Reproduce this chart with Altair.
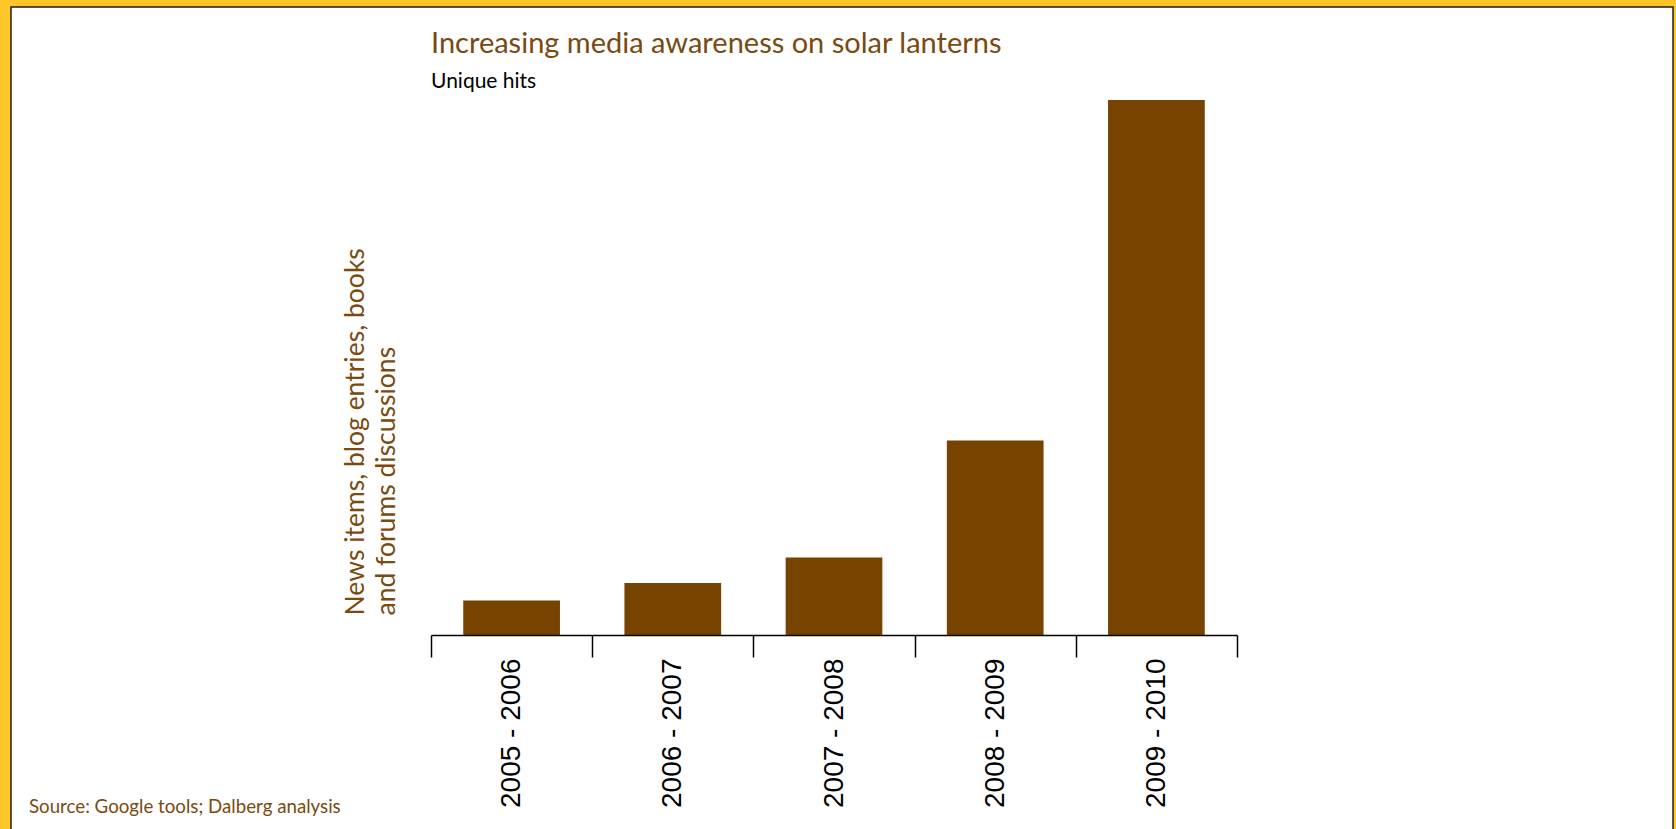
import altair as alt
import pandas as pd

# ---- data ----
periods = ["2005 - 2006", "2006 - 2007", "2007 - 2008", "2008 - 2009", "2009 - 2010"]
hits = [345, 520, 775, 1945, 5350]

title_text = "Increasing media awareness on solar lanterns"
subtitle_text = "Unique hits"
y_title = ["News items, blog entries, books", "and forums discussions"]
source_text = ["Source: Google tools; Dalberg analysis"]

# ---- styling ----
BAR = "#774300"
TEXT_BROWN = "#7A4A10"
YELLOW = "#FFC629"
PAGE_W, PAGE_H = 1676, 829
PLOT_LEFT, PLOT_TOP, PLOT_W, PLOT_H = 431, 100, 806, 535

df = pd.DataFrame({"period": periods, "hits": hits})

frame = alt.Chart(pd.DataFrame({"f": [0]})).mark_rect(
    fill="white", stroke="#1e1e1e", strokeWidth=1.5
).encode(
    x=alt.value(11 - PLOT_LEFT),
    x2=alt.value(1673 - PLOT_LEFT),
    y=alt.value(7 - PLOT_TOP),
    y2=alt.value(PAGE_H - PLOT_TOP + 10),
)

bars = alt.Chart(df).mark_bar(color=BAR, width=alt.RelativeBandSize(0.6)).encode(
    x=alt.X(
        "period:N",
        sort=periods,
        scale=alt.Scale(paddingInner=0, paddingOuter=0),
        axis=alt.Axis(
            title=None,
            labelAngle=270,
            labelFont="Liberation Sans",
            labelFontSize=28,
            labelFontWeight="normal",
            labelColor="black",
            labelPadding=1,
            labelOverlap=False,
            tickSize=22,
            tickWidth=1.5,
            tickColor="black",
            domainColor="black",
            domainWidth=1.5,
            tickBand="extent",
            zindex=1,
        ),
    ),
    y=alt.Y(
        "hits:Q",
        scale=alt.Scale(domain=[0, max(hits)], nice=False),
        axis=alt.Axis(
            title=y_title,
            domain=False,
            ticks=False,
            labels=False,
            grid=False,
            titleFont="Lato",
            titleFontSize=26.5,
            titleFontWeight="normal",
            titleColor=TEXT_BROWN,
            titleAngle=270,
            titleAlign="left",
            titleBaseline="bottom",
            titleX=-62,
            titleY=515,
            titleLineHeight=31,
            zindex=1,
        ),
    ),
)

source = alt.Chart(pd.DataFrame({"src": source_text})).mark_text(
    align="left", baseline="alphabetic", font="Lato", fontSize=18.7, color=TEXT_BROWN
).encode(
    text="src:N",
    x=alt.value(29 - PLOT_LEFT),
    y=alt.value(813 - PLOT_TOP),
)

chart = alt.layer(frame, bars, source).properties(
    width=PLOT_W,
    height=PLOT_H,
    title=alt.TitleParams(
        text=title_text,
        subtitle=subtitle_text,
        anchor="start",
        frame="group",
        font="Lato",
        fontSize=29,
        fontWeight="normal",
        color=TEXT_BROWN,
        subtitleFont="Lato",
        subtitleFontSize=21,
        subtitleColor="black",
        subtitlePadding=12,
        offset=-86,
    ),
    autosize=alt.AutoSizeParams(type="none"),
    padding={"left": PLOT_LEFT, "top": PLOT_TOP,
             "right": PAGE_W - PLOT_LEFT - PLOT_W, "bottom": PAGE_H - PLOT_TOP - PLOT_H},
    background=YELLOW,
).configure_view(strokeWidth=0)

chart.save("out.html", embed_options={"renderer": "svg", "actions": False})
